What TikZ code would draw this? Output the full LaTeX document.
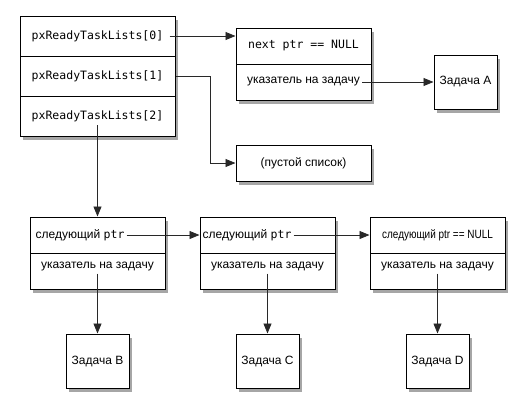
\documentclass[tikz,border=0pt]{standalone}
\usepackage{fontspec}
\setmainfont{Liberation Sans}
\setmonofont{DejaVu Sans Mono}
\usetikzlibrary{arrows.meta,positioning,shadows}
\definecolor{lineG}{RGB}{40,40,40}
\newcommand{\code}[1]{{\fontsize{11.5}{14}\selectfont\ttfamily #1}}

\begin{document}
\begin{tikzpicture}[x=1pt,y=-1pt, every node/.style={font=\fontsize{12}{14}\selectfont},
    shadowed/.style={drop shadow={shadow xshift=3pt,shadow yshift=-3.5pt,fill=black,opacity=0.35}},
    cell/.style={draw, line width=1pt, fill=white, inner sep=0pt, minimum width=135pt, minimum height=36pt, shadowed},
    listcell/.style={cell, minimum width=155pt, minimum height=40pt},
    taskbox/.style={cell, minimum width=63pt, minimum height=54pt},
    txt/.style={inner sep=2pt},
    ptr/.style={draw=lineG, line width=0.8pt, -{Triangle[length=10pt,width=8pt]}}]
  \useasboundingbox (0,0) rectangle (526,413);

  % ready lists, one cell per priority
  \foreach \i in {0,1,2} {
    \node[listcell] (l\i) at (97.5,{36+40*\i}) {\code{pxReadyTaskLists[\i]}};
  }

  % list 0: one item
  \node[cell] (n0) at (303.5,46) {\code{next ptr == NULL}};
  \node[cell] (p0) at (303.5,82) {};
  \node[txt] (pt0) at (p0) {указатель на задачу};
  \node[taskbox] (tA) at (465.5,82) {Задача A};

  % list 1: empty
  \node[cell] (empty) at (303.5,163) {(пустой список)};

  % list 2: three items
  \foreach \n/\x/\t in {1/97.5/B,2/267.5/C,3/437.5/D} {
    \node[cell] (b\n) at (\x,235) {};
    \node[cell] (p\n) at (\x,271) {};
    \node[txt] (pt\n) at (\x,267) {указатель на задачу};
    \node[taskbox] (t\n) at (\x,361) {Задача \t};
    \draw[ptr] (pt\n) -- (t\n);
  }
  \node[txt, anchor=west] (b1txt) at ([xshift=4pt]b1.west) {следующий \code{ptr}};
  \node[txt, anchor=west] (b2txt) at ([xshift=1pt]b2.west) {следующий \code{ptr}};
  \node[txt] (b3txt) at (b3) {\scalebox{0.83}[1]{следующий ptr == NULL}};

  % pointers
  \draw[ptr] ([xshift=-6pt]l0.east) -- (l0.east -| n0.west);
  \draw[ptr] (pt0) -- (tA);
  \draw[ptr] (l1.east) -- ++(35,0) |- (empty.west);
  \draw[ptr] ([yshift=-9pt]l2.center) -- (b1);
  \draw[ptr] (b1txt) -- (b2);
  \draw[ptr] (b2txt) -- (b3);
\end{tikzpicture}
\end{document}
